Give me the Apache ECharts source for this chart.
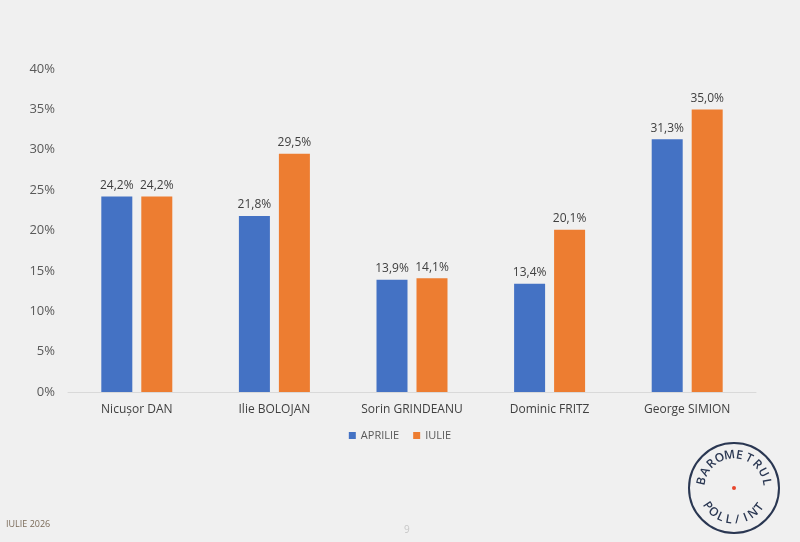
<!DOCTYPE html>
<html>
<head>
    <meta charset="UTF-8">
    <title>Barometrul</title>
    <script src="https://cdn.jsdelivr.net/npm/echarts@6/dist/echarts.min.js"></script>
    <style>
        *{padding:0;margin:0}
        body{background:#f0f0f0;}
        #chart{width:800px;height:542px;}
    </style>
</head>
<body>
<div id="chart"></div>
<script>
    var categories = ['Nicușor DAN', 'Ilie BOLOJAN', 'Sorin GRINDEANU', 'Dominic FRITZ', 'George SIMION'];
    var aprilie = [24.2, 21.8, 13.9, 13.4, 31.3];
    var iulie = [24.2, 29.5, 14.1, 20.1, 35.0];
    var seriesNames = ['APRILIE', 'IULIE'];

    var font = '"Open Sans", "Noto Sans", sans-serif';

    // stamp in the lower right corner, letters placed round a circle
    var cx = 734, cy = 488, r = 45;
    var stamp = [
        {type:'circle', shape:{cx:cx, cy:cy, r:r}, style:{fill:'none', stroke:'#2a3752', lineWidth:2}},
        {type:'circle', shape:{cx:cx, cy:cy, r:2}, style:{fill:'#e8452c'}}
    ];
    function arcText(txt, startDeg, stepDeg, bottom){
        for(var k=0;k<txt.length;k++){
            var a = (startDeg + k*stepDeg) * Math.PI/180;
            var rr = bottom ? r-13 : r-12;
            var x = cx + rr*Math.cos(a), y = cy + rr*Math.sin(a);
            var rot = bottom ? -(a - Math.PI/2) : -(a + Math.PI/2);
            stamp.push({
                type:'text', x:x, y:y, rotation:rot,
                style:{text:txt[k], fill:'#2a3752', font:'600 12px ' + font, align:'center', verticalAlign:'middle'}
            });
        }
    }
    arcText('BAROMETRUL', 192, 17.5, false);
    arcText('POLL/INT', 146, -15.5, true);

    var chart = echarts.init(document.getElementById('chart'));
    var labelOpt = {
        show:true, position:'top', distance:5, color:'#404040', fontSize:12, fontFamily:font,
        formatter:function(p){ return p.value.toFixed(1).replace('.', ',') + '%'; }
    };
    chart.setOption({
        backgroundColor:'#f0f0f0',
        animation:false,
        grid:{left:68, right:44, top:69, bottom:150},
        legend:{
            data:seriesNames, bottom:96, left:'center', itemWidth:7, itemHeight:7, itemGap:14,
            icon:'rect', textStyle:{color:'#595959', fontSize:11, fontFamily:font}
        },
        xAxis:{
            type:'category', data:categories,
            axisLine:{lineStyle:{color:'#d9d9d9'}},
            axisTick:{show:false},
            axisLabel:{color:'#404040', fontSize:12, fontFamily:font, margin:12}
        },
        yAxis:{
            type:'value', min:0, max:40, interval:5,
            splitLine:{show:false},
            axisLabel:{formatter:'{value}%', color:'#595959', fontSize:13, fontFamily:font, margin:13}
        },
        series:[
            {name:seriesNames[0], type:'bar', data:aprilie, barWidth:31, barGap:'29%', itemStyle:{color:'#4472c4'}, label:labelOpt},
            {name:seriesNames[1], type:'bar', data:iulie, barWidth:31, itemStyle:{color:'#ed7d31'}, label:labelOpt}
        ],
        graphic:[
            {type:'text', left:6, top:520, style:{text:'IULIE 2026', fill:'#7a6a58', font:'9px ' + font}},
            {type:'text', left:404, top:525, style:{text:'9', fill:'#c8c8c8', font:'10px ' + font}}
        ].concat(stamp)
    });
</script>
</body>
</html>
